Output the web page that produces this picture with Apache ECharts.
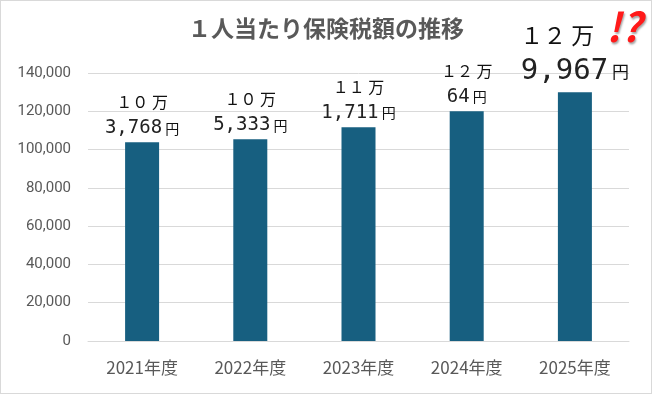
<!DOCTYPE html>
<html><head><meta charset="utf-8">
<script src="https://cdn.jsdelivr.net/npm/echarts@6/dist/echarts.min.js"></script>
<style>html,body{margin:0;padding:0;background:#fff}#c{width:650px;height:392px;border:1px solid #d9d9d9}</style>
</head><body><div id="c"></div>
<script>
const titleText = '１人当たり保険税額の推移';
const categories = ['2021年度','2022年度','2023年度','2024年度','2025年度'];
const values = [103768, 105333, 111711, 120064, 129967];
const yTicks = [0, 20000, 40000, 60000, 80000, 100000, 120000, 140000];

function fw(s){return String(s).replace(/[0-9]/g,d=>String.fromCharCode(d.charCodeAt(0)+0xFEE0));}
function labelText(v, big){
  const man = Math.floor(v/10000), rest = v % 10000;
  const a = big ? 'mb' : 'm', b = big ? 'nb' : 'n', y = big ? 'yb' : 'y';
  let l1 = '{'+a+'|'+fw(man)+' 万}';
  if (big) l1 += '{ex|!?}';
  return l1 + '\n{'+b+'|'+rest.toLocaleString('en-US')+'}{'+y+'| 円}';
}
const font = '"Noto Sans CJK JP", sans-serif';
const mono = '"DejaVu Sans Mono", monospace';
const chart = echarts.init(document.getElementById('c'));
chart.setOption({
  animation:false,
  title:{text:titleText,left:'center',top:11,textStyle:{color:'#595959',fontSize:23,fontWeight:'bold',fontFamily:font}},
  grid:{left:87,right:22,top:72,bottom:52,containLabel:false},
  xAxis:{type:'category',data:categories,axisLine:{lineStyle:{color:'#d9d9d9'}},axisTick:{show:false},
    axisLabel:{color:'#595959',fontSize:17,margin:18,fontFamily:font}},
  yAxis:{type:'value',min:yTicks[0],max:yTicks[yTicks.length-1],interval:20000,
    axisLabel:{color:'#595959',fontSize:15,margin:17,fontFamily:'Roboto, sans-serif',formatter:v=>v.toLocaleString('en-US')},
    splitLine:{lineStyle:{color:'#d9d9d9'}}},
  series:[{type:'bar',barWidth:34,itemStyle:{color:'#175f80'},
    data:values.map((v,i)=>{
      const big = i===values.length-1;
      return {value:v,label:{show:true,position:'top',distance:big?3:1,formatter:labelText(v,big),
        rich:{
          m:{fontSize:16,color:'#111',fontFamily:font,lineHeight:26},
          n:{fontSize:19,color:'#222',fontFamily:mono,lineHeight:26},
          y:{fontSize:14,color:'#111',fontFamily:font,lineHeight:26},
          mb:{fontSize:23,color:'#111',fontFamily:font,lineHeight:36,padding:[0,0,0,12]},
          nb:{fontSize:29,color:'#222',fontFamily:mono,lineHeight:36},
          yb:{fontSize:17,color:'#111',fontFamily:font,lineHeight:36},
          ex:{fontSize:40,color:'#ff1a1a',fontWeight:'bold',fontStyle:'italic',fontFamily:font,lineHeight:36,padding:[0,0,16,12],
              textShadowColor:'rgba(0,0,0,0.35)',textShadowBlur:2,textShadowOffsetX:1,textShadowOffsetY:2}
        }}};
    })}]
});
</script></body></html>
